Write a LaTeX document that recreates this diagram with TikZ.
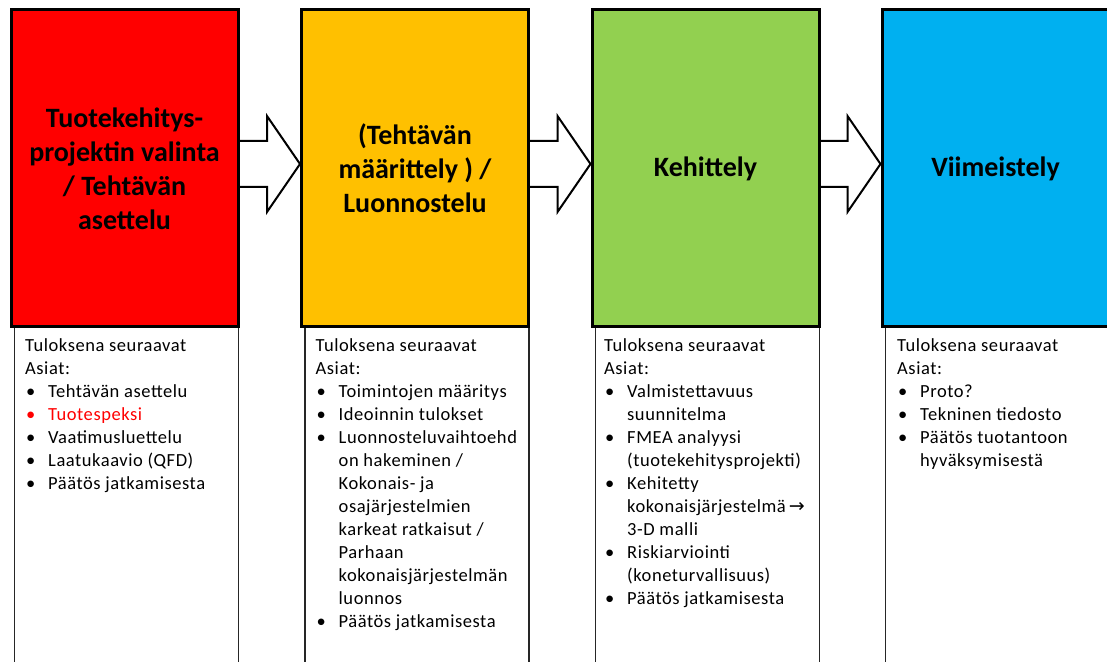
\documentclass[tikz,border=0pt]{standalone}
\usepackage{fontspec}
\setmainfont{Carlito}
\newfontfamily\listfont[LetterSpace=3]{Carlito}
\newfontfamily\arrowfont{DejaVu Sans}
\usetikzlibrary{calc}
\definecolor{stagered}{HTML}{FF0000}
\definecolor{stageorange}{HTML}{FFC000}
\definecolor{stagegreen}{HTML}{92D050}
\definecolor{stageblue}{HTML}{00B0F0}
\newcommand{\bul}{\makebox[23pt][l]{\hspace{1pt}\textbullet}}
\newcommand{\cont}{\hspace*{23pt}}
\begin{document}
\begin{tikzpicture}[x=1pt, y=1pt,
    stage/.style={draw=black, line width=3pt, minimum width=227pt, minimum height=317pt,
      align=center, font=\fontsize{28}{34}\selectfont\bfseries},
    listline/.style={draw=black!85, line width=1.4pt},
    results/.style={anchor=north west, inner sep=0pt, align=left,
      font=\listfont\fontsize{18.5}{23}\selectfont},
    blockarrow/.style={draw=black, line width=2pt, line join=miter}]
  \useasboundingbox (0, 0) rectangle (1107, 661);

  % phases
  \node[stage, fill=stagered] (sel) at (124.5, 492.5)
    {Tuotekehitys-\\projektin valinta\\/ Tehtävän\\asettelu};
  \node[stage, fill=stageorange] (luo) at (415, 492.5)
    {(Tehtävän\\määrittely ) /\\Luonnostelu};
  \node[stage, fill=stagegreen] (keh) at (705.5, 492.5) {Kehittely};
  \node[stage, fill=stageblue] (vii) at (995.5, 492.5) {Viimeistely};

  % arrows between phases
  \foreach \a/\b in {sel/luo, luo/keh, keh/vii} {
    \draw[blockarrow] ($(\a.east)+(0,27.5)$) -- ($(\b.west)+(-33,27.5)$)
      -- ($(\b.west)+(-33,52.5)$) -- ($(\b.west)+(0,4.5)$)
      -- ($(\b.west)+(-33,-43.5)$) -- ($(\b.west)+(-33,-18.5)$)
      -- ($(\a.east)+(0,-18.5)$);
  }

  % result columns
  \foreach \n in {sel, luo, keh, vii} {
    \draw[listline] ($(\n.south west)+(5,0)$) -- ++(0,-340);
    \draw[listline] ($(\n.south east)+(-1,0)$) -- ++(0,-340);
  }

  \node[results] (selres) at ($(sel.south west)+(15.5,-10)$)
    {Tuloksena seuraavat\\Asiat:\\
     \bul Tehtävän asettelu\\
     \textcolor{red}{\bul Tuotespeksi}\\
     \bul Vaatimusluettelu\\
     \bul Laatukaavio (QFD)\\
     \bul Päätös jatkamisesta};

  \node[results] (luores) at ($(luo.south west)+(15.5,-10)$)
    {Tuloksena seuraavat\\Asiat:\\
     \bul Toimintojen määritys\\
     \bul Ideoinnin tulokset\\
     \bul Luonnosteluvaihtoehd\\
     \cont on hakeminen /\\
     \cont Kokonais- ja\\
     \cont osajärjestelmien\\
     \cont karkeat ratkaisut /\\
     \cont Parhaan\\
     \cont kokonaisjärjestelmän\\
     \cont luonnos\\
     \bul Päätös jatkamisesta};

  \node[results] (kehres) at ($(keh.south west)+(13.5,-10)$)
    {Tuloksena seuraavat\\Asiat:\\
     \bul Valmistettavuus\\
     \cont suunnitelma\\
     \bul FMEA analyysi\\
     \cont (tuotekehitysprojekti)\\
     \bul Kehitetty\\
     \cont kokonaisjärjestelmä\,{\arrowfont\fontsize{19}{23}\selectfont →}\\
     \cont 3-D malli\\
     \bul Riskiarviointi\\
     \cont (koneturvallisuus)\\
     \bul Päätös jatkamisesta};

  \node[results] (viires) at ($(vii.south west)+(16.5,-10)$)
    {Tuloksena seuraavat\\Asiat:\\
     \bul Proto?\\
     \bul Tekninen tiedosto\\
     \bul Päätös tuotantoon\\
     \cont hyväksymisestä};
\end{tikzpicture}
\end{document}
